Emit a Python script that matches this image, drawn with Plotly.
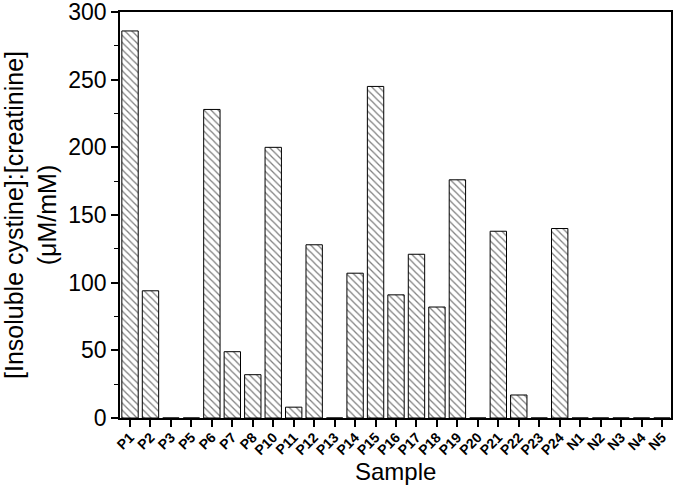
import plotly.graph_objects as go

samples = ["P1", "P2", "P3", "P5", "P6", "P7", "P8", "P10", "P11", "P12", "P13", "P14",
           "P15", "P16", "P17", "P18", "P19", "P20", "P21", "P22", "P23", "P24",
           "N1", "N2", "N3", "N4", "N5"]
values = [286, 94, 0, 0, 228, 49, 32, 200, 8, 128, 0, 107,
          245, 91, 121, 82, 176, 0, 138, 17, 0, 140,
          0, 0, 0, 0, 0]

FONT = "Liberation Sans, Arial, sans-serif"

fig = go.Figure()
fig.add_trace(go.Bar(
    x=samples, y=values, width=0.8,
    marker=dict(color="white", line=dict(color="black", width=1),
                pattern=dict(shape="\\", fgcolor="black", bgcolor="white", size=5, solidity=0.25)),
))

fig.update_layout(
    width=675, height=486, paper_bgcolor="white", plot_bgcolor="white",
    margin=dict(l=120, r=4, t=12, b=68),
    font=dict(family=FONT, color="black"),
    showlegend=False, bargap=0.2,
)
fig.update_xaxes(
    range=[-0.49, 26.44], showline=True, mirror=True, linecolor="black", linewidth=1.5,
    ticks="outside", ticklen=7, tickwidth=1.5, tickcolor="black", tickangle=-45,
    tickfont=dict(size=14, family=FONT, weight="bold"), automargin=False,
    ticklabelstandoff=-3, ticklabeloverflow="allow",
)
fig.add_annotation(text="Sample", xref="paper", yref="paper", x=0.5, y=0, yshift=-53,
                   yanchor="middle", xanchor="center", showarrow=False,
                   font=dict(size=24, family=FONT, color="black"))
fig.update_yaxes(
    range=[0, 300], showline=True, mirror=True, linecolor="black", linewidth=1.5,
    ticks="outside", ticklen=7, tickwidth=1.5, tickcolor="black", dtick=50,
    tickfont=dict(size=23), showgrid=False, zeroline=False, automargin=False,
    ticklabeloverflow="allow",
    minor=dict(ticks="outside", ticklen=4, tickwidth=1.2, tickcolor="black", dtick=25, showgrid=False),
    title=dict(text="[Insoluble cystine]:[creatinine]<br>(μM/mM)", font=dict(size=25), standoff=17),
)

fig.write_html("out.html", config={"displayModeBar": False},
               post_script="document.body.style.margin='0';")
